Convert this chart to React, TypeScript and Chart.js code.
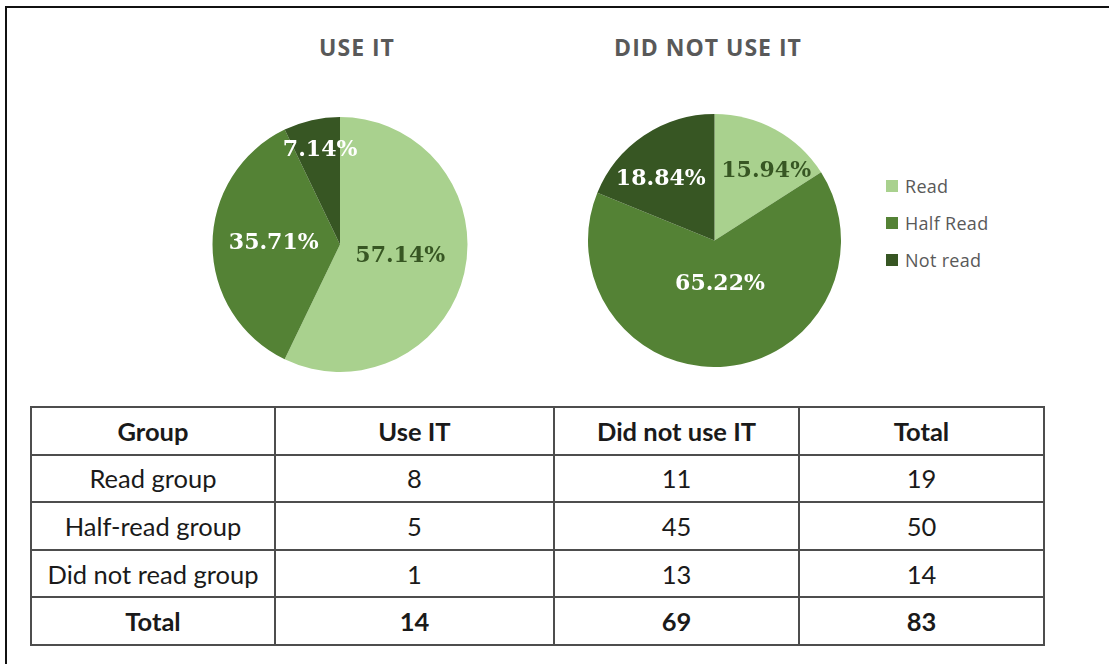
import React, { useEffect, useRef } from "react";
import { Chart, registerables } from "chart.js";

Chart.register(...registerables);

// Pie slices (percent of each group)
const sliceLabels = ["Read", "Half Read", "Not read"];
const useItShares = [57.14, 35.71, 7.14];
const didNotUseShares = [15.94, 65.22, 18.84];
const sliceColors = ["#A9D18E", "#548235", "#375623"];
const valueLabelColors = ["#375623", "#FFFFFF", "#FFFFFF"];

// Table rows
const tableHeaders = ["Group", "Use IT", "Did not use IT", "Total"];
const groupNames = ["Read group", "Half-read group", "Did not read group"];
const useItCounts = [8, 5, 1];
const didNotUseCounts = [11, 45, 13];
const groupTotals = [19, 50, 14];
const totalRow = ["Total", "14", "69", "83"];

const FONT_UI = "'Open Sans', 'Noto Sans', sans-serif";
const FONT_TABLE = "Lato, 'Open Sans', sans-serif";

// Percentage labels drawn inside each slice: [radius fraction, angle shift in degrees]
const valueLabelPlugin = {
  id: "valueLabels",
  afterDatasetsDraw(chart: any, _args: any, opts: any) {
    const { ctx } = chart;
    const meta = chart.getDatasetMeta(0);
    const values = chart.data.datasets[0].data as number[];
    ctx.save();
    ctx.font = "bold 22px 'DejaVu Serif'";
    ctx.textAlign = "center";
    ctx.textBaseline = "middle";
    meta.data.forEach((arc: any, i: number) => {
      const { x, y, startAngle, endAngle, outerRadius } = arc.getProps(
        ["x", "y", "startAngle", "endAngle", "outerRadius"],
        true
      );
      const [frac, shiftDeg] = opts.spots[i];
      const a = (startAngle + endAngle) / 2 + (shiftDeg * Math.PI) / 180;
      ctx.fillStyle = opts.colors[i];
      ctx.fillText(
        values[i].toFixed(2) + "%",
        x + Math.cos(a) * outerRadius * frac,
        y + Math.sin(a) * outerRadius * frac + 1
      );
    });
    ctx.restore();
  },
};

type PieProps = {
  shares: number[];
  spots: number[][];
  left: number;
  top: number;
  width: number;
  height: number;
};

function PieChart({ shares, spots, left, top, width, height }: PieProps) {
  const ref = useRef<HTMLCanvasElement>(null);
  useEffect(() => {
    const chart = new Chart(ref.current as HTMLCanvasElement, {
      type: "pie",
      data: {
        labels: sliceLabels,
        datasets: [
          {
            data: shares,
            backgroundColor: sliceColors,
            borderWidth: 0,
            hoverBorderWidth: 0,
            hoverOffset: 0,
          },
        ],
      },
      options: {
        animation: false,
        responsive: false,
        maintainAspectRatio: false,
        events: [],
        layout: { padding: 0 },
        plugins: {
          legend: { display: false },
          tooltip: { enabled: false },
          title: { display: false },
          valueLabels: { spots, colors: valueLabelColors },
        } as any,
      },
      plugins: [valueLabelPlugin],
    });
    return () => chart.destroy();
  }, []);
  return (
    <canvas
      ref={ref}
      width={width}
      height={height}
      style={{ position: "absolute", left, top, width, height }}
    />
  );
}

function PieTitle({ text, cx }: { text: string; cx: number }) {
  return (
    <div
      style={{
        position: "absolute",
        left: cx - 150,
        top: 32,
        width: 300,
        height: 30,
        lineHeight: "30px",
        textAlign: "center",
        fontFamily: FONT_UI,
        fontWeight: 700,
        fontSize: 23,
        letterSpacing: 1,
        color: "#595959",
      }}
    >
      {text}
    </div>
  );
}

function Legend() {
  const rowCenters = [186, 223, 260];
  return (
    <>
      {sliceLabels.map((label, i) => (
        <div
          key={label}
          style={{
            position: "absolute",
            left: 886,
            top: rowCenters[i] - 12,
            height: 24,
            display: "flex",
            alignItems: "center",
            fontFamily: FONT_UI,
            fontSize: 18,
            letterSpacing: 0.3,
            color: "#595959",
            whiteSpace: "nowrap",
          }}
        >
          <span
            style={{
              display: "inline-block",
              width: 12,
              height: 12,
              background: sliceColors[i],
              marginRight: 7,
            }}
          />
          {label}
        </div>
      ))}
    </>
  );
}

const cellBase: React.CSSProperties = {
  border: "2px solid #4d4d4d",
  height: 45.6,
  padding: 0,
  textAlign: "center",
  verticalAlign: "middle",
  fontFamily: FONT_TABLE,
  fontSize: 25.5,
  color: "#1a1a1a",
};

function GroupTable() {
  const colWidths = [244, 279, 245, 245];
  return (
    <table
      style={{
        position: "absolute",
        left: 30,
        top: 406,
        width: 1013,
        borderCollapse: "collapse",
        tableLayout: "fixed",
      }}
    >
      <colgroup>
        {colWidths.map((w, i) => (
          <col key={i} style={{ width: w }} />
        ))}
      </colgroup>
      <tbody>
        <tr>
          {tableHeaders.map((h) => (
            <td key={h} style={{ ...cellBase, fontWeight: 700 }}>
              {h}
            </td>
          ))}
        </tr>
        {groupNames.map((g, i) => (
          <tr key={g}>
            <td style={cellBase}>{g}</td>
            <td style={cellBase}>{useItCounts[i]}</td>
            <td style={cellBase}>{didNotUseCounts[i]}</td>
            <td style={cellBase}>{groupTotals[i]}</td>
          </tr>
        ))}
        <tr>
          {totalRow.map((v, i) => (
            <td key={i} style={{ ...cellBase, fontWeight: 700 }}>
              {v}
            </td>
          ))}
        </tr>
      </tbody>
    </table>
  );
}

export default function App() {
  return (
    <div
      style={{
        position: "absolute",
        left: 0,
        top: 0,
        width: 1109,
        height: 664,
        overflow: "hidden",
        background: "#ffffff",
      }}
    >
      <div
        style={{
          position: "absolute",
          left: 5,
          top: 6,
          width: 1200,
          height: 700,
          borderTop: "2px solid #111111",
          borderLeft: "2px solid #111111",
        }}
      />
      <PieTitle text="USE IT" cx={357} />
      <PieTitle text="DID NOT USE IT" cx={708} />
      <PieChart
        shares={useItShares}
        spots={[
          [0.48, -2.7],
          [0.52, 1.5],
          [0.76, 1],
        ]}
        left={200}
        top={117}
        width={280}
        height={255}
      />
      <PieChart
        shares={didNotUseShares}
        spots={[
          [0.69, 7.6],
          [0.34, -2.1],
          [0.65, -6.9],
        ]}
        left={574}
        top={114}
        width={281}
        height={253}
      />
      <Legend />
      <GroupTable />
    </div>
  );
}
